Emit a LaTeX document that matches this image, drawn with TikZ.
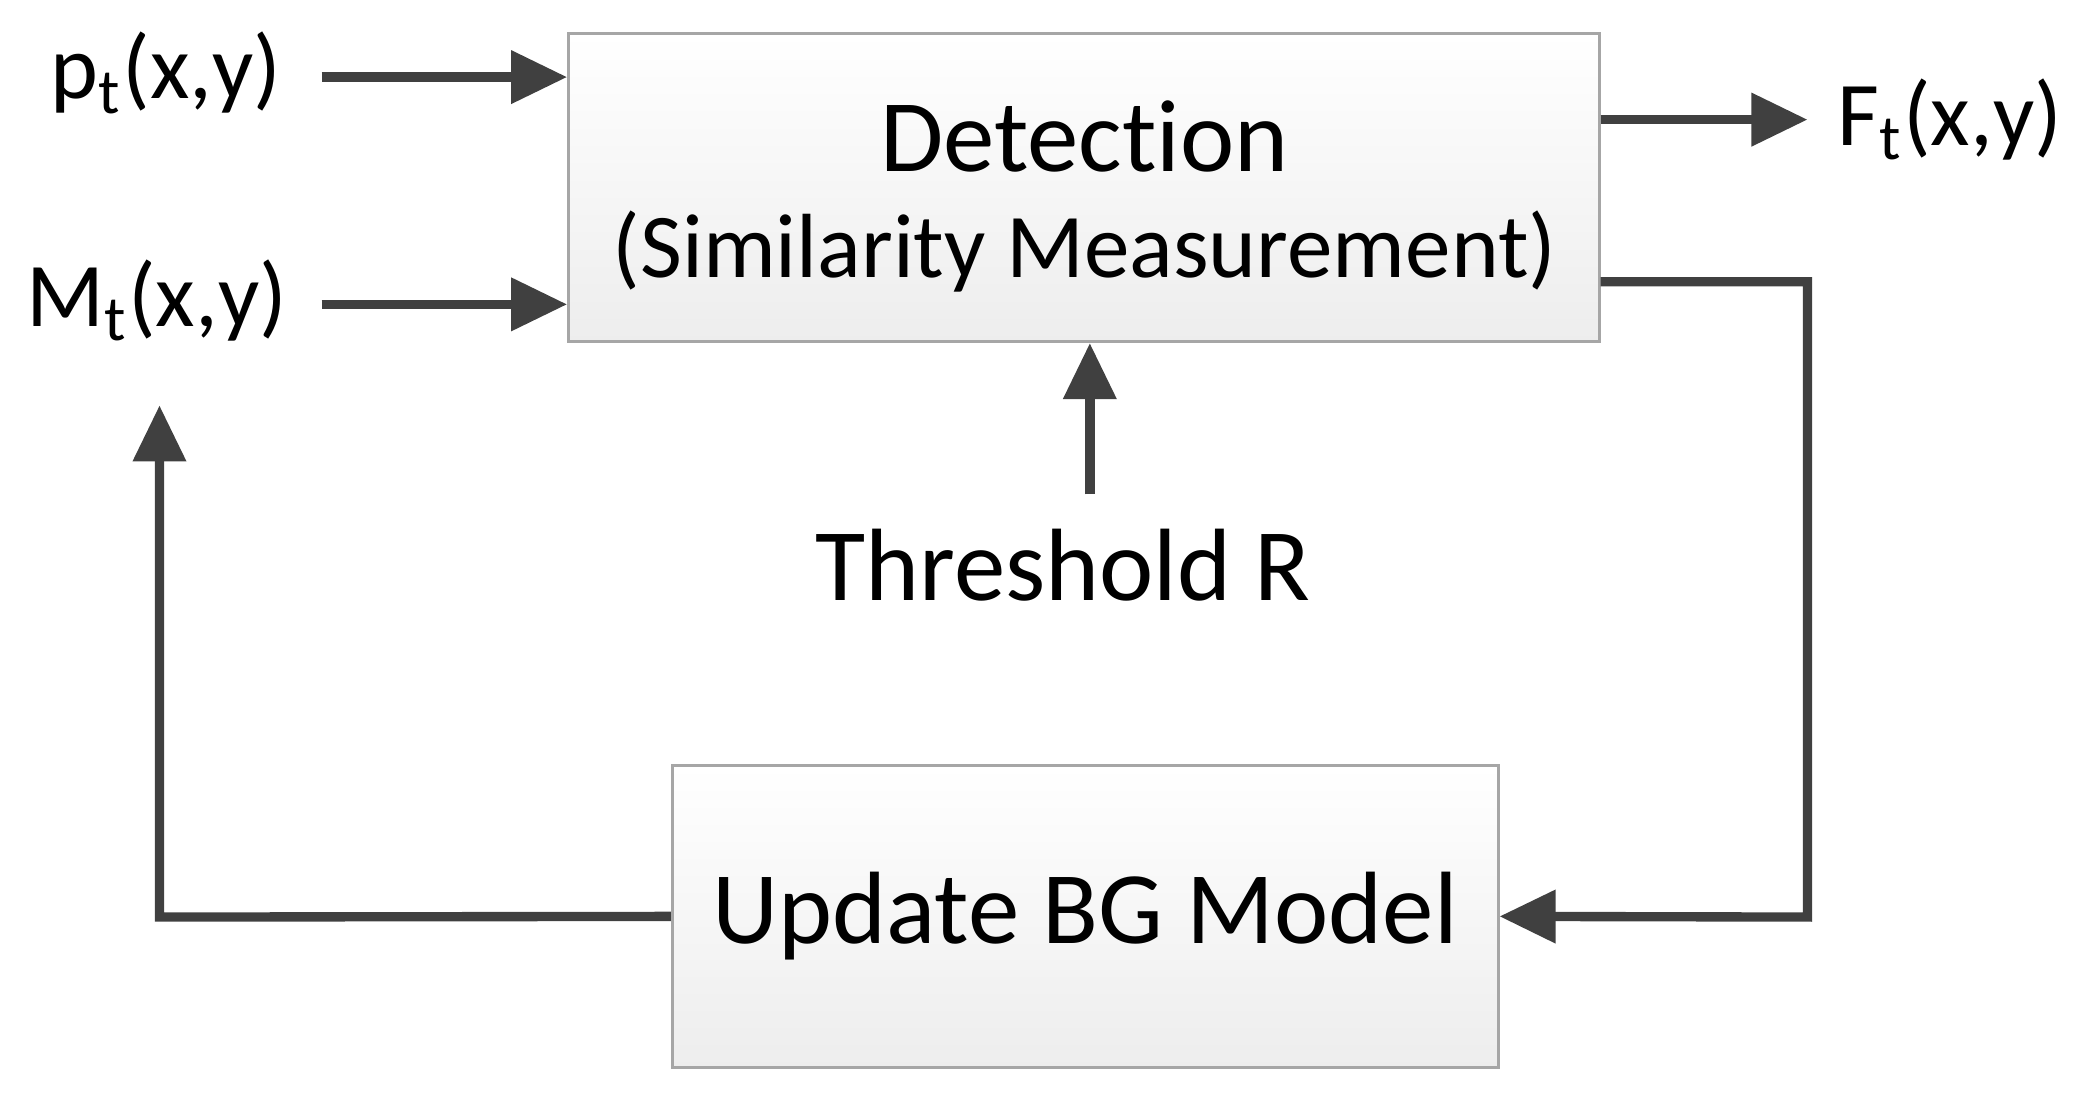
\documentclass[tikz,border=0pt]{standalone}
\usepackage{fontspec}
\setmainfont{Carlito}[RawFeature=-liga]
\usetikzlibrary{arrows.meta}

\tikzset{
  block/.style={draw=gray!70, line width=0.6pt, top color=white, bottom color=gray!14, inner sep=0pt},
  flow/.style={draw=black!75, line width=2pt, -{Triangle[length=12pt,width=11pt]}},
  lbl/.style={font=\fontsize{19.5}{22}\selectfont},
  big/.style={font=\fontsize{22}{26}\selectfont}
}

\begin{document}
\begin{tikzpicture}[x=0.01cm, y=-0.01cm]
\useasboundingbox (0,0) rectangle (1565,830);

% blocks
\node[block, minimum width=7.75cm, minimum height=2.32cm] (det) at (815.5,141) {};
\node[big] (dettitle) at (816,103) {Detection};
\node[lbl] (detsub) at (816,189) {(Similarity Measurement)};

\node[block, big, minimum width=6.21cm, minimum height=2.27cm] (upd) at (816.5,689.5) {Update BG Model};

% labels
\node[lbl] (p) at (125,55) {p\textsubscript{t}(x,y)};
\node[lbl] (M) at (118,226) {M\textsubscript{t}(x,y)};
\node[lbl] (F) at (1467,90) {F\textsubscript{t}(x,y)};
\node[big] (thr) at (800,425) {Threshold R};

% connector ends
\coordinate (pin) at (242,58);   \coordinate (Min) at (242,229);
\coordinate (Fend) at (1360,90); \coordinate (tin) at (820,372);
\coordinate (rB) at (1360,212);  \coordinate (rC) at (1360,690);
\coordinate (lB) at (120,690);   \coordinate (lC) at (120,305);

\draw[flow] (pin) -- (pin -| det.west);
\draw[flow] (Min) -- (Min -| det.west);
\draw[flow] (Fend -| det.east) -- (Fend);
\draw[flow] (tin) -- (tin |- det.south);
\draw[flow] (rB -| det.east) -- (rB) -- (rC) -- (upd.east);
\draw[flow] (upd.west) -- (lB) -- (lC);
\end{tikzpicture}
\end{document}
